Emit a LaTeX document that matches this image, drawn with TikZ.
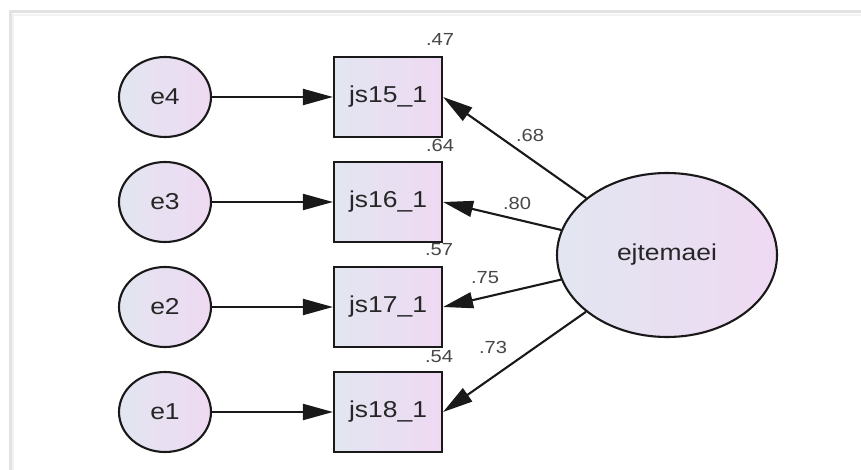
\documentclass[tikz,border=0pt]{standalone}
\usepackage{fontspec}
\setmainfont{Liberation Sans}
\usetikzlibrary{shapes.geometric,arrows.meta}
\definecolor{gA}{HTML}{E2E6F1}
\definecolor{gB}{HTML}{EFD9F2}
\definecolor{txt}{HTML}{262626}
\definecolor{framecol}{HTML}{E2E2E2}
\newcommand{\stretchtxt}[1]{\scalebox{1.15}[1]{#1}}
\tikzset{
  shp/.style={draw=black!90, line width=2.1pt, left color=gA, right color=gB, text=txt, inner sep=0pt, font=\fontsize{23}{27}\selectfont},
  errnode/.style={shp, ellipse, minimum width=92pt, minimum height=80pt},
  obsnode/.style={shp, rectangle, minimum width=108pt, minimum height=80pt},
  latnode/.style={shp, ellipse, minimum width=220pt, minimum height=164pt},
  lbl/.style={text=txt!85, inner sep=0pt, font=\fontsize{17.5}{20}\selectfont},
  arr/.style={line width=2.1pt, black!90, -{Triangle[length=30pt,width=16pt]}}
}
\begin{document}
\begin{tikzpicture}[x=1pt,y=-1pt]
\useasboundingbox (0,0) rectangle (861,470);
\fill[white] (0,0) rectangle (861,470);
% frame
\draw[framecol, line width=3pt] (10,470) -- (10,12) -- (861,12);
\draw[black!5, line width=2pt] (13,470) -- (13,15) -- (861,15);
% error terms
\node[errnode] (e4) at (165,97) {\stretchtxt{e4}};
\node[errnode] (e3) at (165,202) {\stretchtxt{e3}};
\node[errnode] (e2) at (165,307) {\stretchtxt{e2}};
\node[errnode] (e1) at (165,412) {\stretchtxt{e1}};
% observed
\node[obsnode] (js15) at (388,97) {\stretchtxt{js15\_1}};
\node[obsnode] (js16) at (388,202) {\stretchtxt{js16\_1}};
\node[obsnode] (js17) at (388,307) {\stretchtxt{js17\_1}};
\node[obsnode] (js18) at (388,412) {\stretchtxt{js18\_1}};
% latent
\node[latnode] (ej) at (667,255) {\stretchtxt{ejtemaei}};
% arrows
\draw[arr] (e4) -- (js15);
\draw[arr] (e3) -- (js16);
\draw[arr] (e2) -- (js17);
\draw[arr] (e1) -- (js18);
\draw[arr] (ej) -- (js15.east);
\draw[arr] (ej) -- (js16.east);
\draw[arr] (ej) -- (js17.east);
\draw[arr] (ej) -- (js18.east);
% R squared labels
\node[lbl] (r15) at (440,39) {\stretchtxt{.47}};
\node[lbl] (r16) at (440,145) {\stretchtxt{.64}};
\node[lbl] (r17) at (439,250) {\stretchtxt{.57}};
\node[lbl] (r18) at (439,357) {\stretchtxt{.54}};
% loadings
\node[lbl] (l15) at (530,135) {\stretchtxt{.68}};
\node[lbl] (l16) at (517,203) {\stretchtxt{.80}};
\node[lbl] (l17) at (485,278) {\stretchtxt{.75}};
\node[lbl] (l18) at (493,347) {\stretchtxt{.73}};
\end{tikzpicture}
\end{document}
